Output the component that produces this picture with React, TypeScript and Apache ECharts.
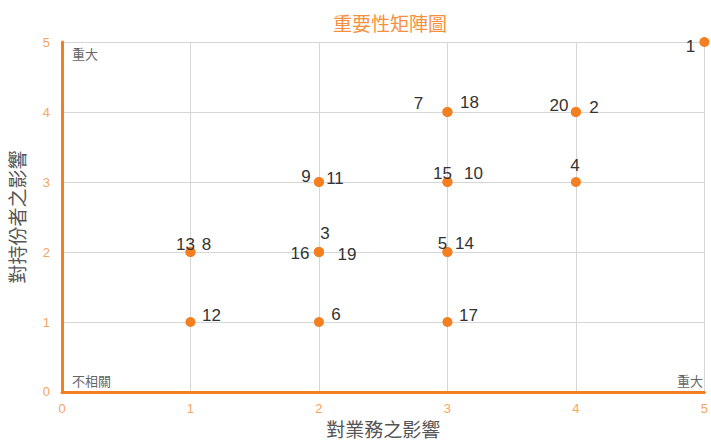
import React, { useEffect, useRef } from "react";
import * as echarts from "echarts";

const ids = ["1", "2", "20", "7", "18", "9", "11", "15", "10", "4", "13", "8", "3", "16", "19", "5", "14", "12", "6", "17"];
const businessImpact = [5, 4, 4, 3, 3, 2, 2, 3, 3, 4, 1, 1, 2, 2, 2, 3, 3, 1, 2, 3];
const stakeholderImpact = [5, 4, 4, 4, 4, 3, 3, 3, 3, 3, 2, 2, 2, 2, 2, 2, 2, 1, 1, 1];
const axisTicks = [0, 1, 2, 3, 4, 5];

const title = "重要性矩陣圖";
const xName = "對業務之影響";
const yName = "對持份者之影響";

// label placement relative to the point centre (style only)
const labelOffsets: Record<string, [number, number]> = {
  "1": [-14, 4],
  "2": [18, -5],
  "20": [-17, -7],
  "7": [-29, -9],
  "18": [22, -10],
  "9": [-13, -6],
  "11": [16, -4],
  "15": [-5, -9],
  "10": [26, -9],
  "4": [-1, -17],
  "13": [-5, -8],
  "8": [16, -8],
  "3": [6, -19],
  "16": [-19, 1],
  "19": [28, 2],
  "5": [-5, -9],
  "14": [17, -9],
  "12": [21, -7],
  "6": [17, -8],
  "17": [21, -7],
};

const ORANGE = "#f47f20";
const FONT = "'Liberation Sans', 'Noto Sans CJK TC', sans-serif";
const SYMBOL = 10;

export default function App() {
  const ref = useRef<HTMLDivElement>(null);
  useEffect(() => {
    if (!ref.current) return;
    const chart = echarts.init(ref.current, null, { renderer: "svg" });
    const data = ids.map((id, i) => {
      const off = labelOffsets[id] || [0, 0];
      return {
        value: [businessImpact[i], stakeholderImpact[i]],
        name: id,
        label: {
          position: [SYMBOL / 2 + off[0], SYMBOL / 2 + off[1]],
          align: "center",
          verticalAlign: "middle",
        },
      };
    });
    chart.setOption({
      animation: false,
      backgroundColor: "#ffffff",
      textStyle: { fontFamily: FONT },
      title: {
        text: title,
        left: 328,
        top: 10,
        textStyle: { color: "#f5913e", fontSize: 19, fontWeight: "normal", fontFamily: FONT },
      },
      grid: { left: 62, right: 3, top: 42, bottom: 49 },
      xAxis: {
        type: "value",
        min: axisTicks[0],
        max: axisTicks[axisTicks.length - 1],
        interval: 1,
        name: xName,
        nameLocation: "middle",
        nameGap: 29,
        nameTextStyle: { color: "#555", fontSize: 19, fontFamily: FONT },
        axisLine: { show: true, lineStyle: { color: ORANGE, width: 3 } },
        axisTick: { show: false },
        axisLabel: { color: "#f7a461", fontSize: 13, margin: 10, fontFamily: FONT },
        splitLine: { show: true, lineStyle: { color: "#d6d6d6", width: 1 } },
      },
      yAxis: {
        type: "value",
        min: axisTicks[0],
        max: axisTicks[axisTicks.length - 1],
        interval: 1,
        name: yName,
        nameLocation: "middle",
        nameGap: 34,
        nameTextStyle: { color: "#555", fontSize: 19, fontFamily: FONT },
        axisLine: { show: true, lineStyle: { color: ORANGE, width: 3 } },
        axisTick: { show: false },
        axisLabel: { color: "#f7a461", fontSize: 13, margin: 12, fontFamily: FONT },
        splitLine: { show: true, lineStyle: { color: "#d6d6d6", width: 1 } },
      },
      graphic: [
        { type: "text", left: 72, top: 48, style: { text: "重大", fill: "#666", fontSize: 13, fontFamily: FONT } },
        { type: "text", left: 72, top: 375, style: { text: "不相關", fill: "#666", fontSize: 13, fontFamily: FONT } },
        { type: "text", right: 8, top: 375, style: { text: "重大", fill: "#666", fontSize: 13, fontFamily: FONT } },
      ],
      series: [
        {
          type: "scatter",
          symbolSize: SYMBOL,
          clip: false,
          itemStyle: { color: ORANGE, opacity: 1 },
          label: {
            show: true,
            formatter: "{b}",
            color: "#333",
            fontSize: 17,
            fontFamily: FONT,
          },
          data,
        },
      ],
    });
    return () => chart.dispose();
  }, []);
  return <div ref={ref} style={{ position: "absolute", left: 0, top: 0, width: 711, height: 445 }} />;
}
